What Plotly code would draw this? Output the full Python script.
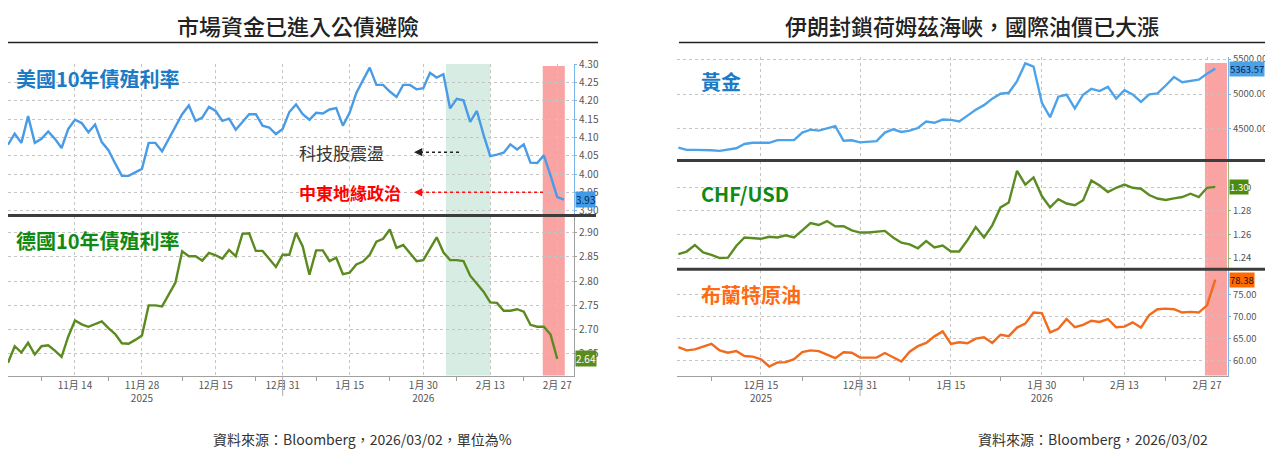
import pandas as pd
import plotly.graph_objects as go

# the page puts the figure 8px in from the top-left corner, so the figure is
# drawn 8px smaller and every layout position is given in page pixels
PAGE_OFF = 8
W, H = 1273 - PAGE_OFF, 453 - PAGE_OFF
FONT = "Noto Sans CJK TC, Noto Sans, sans-serif"
GRID = "#c4c4c4"

## data ----
# left chart: trading days (weekends and the Christmas / New Year holidays skipped)
left_holidays = ["2025-12-25", "2025-12-26", "2026-01-01"]
left_dates = [d for d in pd.bdate_range("2025-10-31", "2026-03-02")
              if d.strftime("%Y-%m-%d") not in left_holidays]
right_dates = list(pd.bdate_range("2025-12-01", "2026-03-02"))

us_10y = [
    4.080, 4.110, 4.085, 4.158, 4.085, 4.096, 4.116, 4.096, 4.071, 4.123,
    4.148, 4.139, 4.114, 4.135, 4.087, 4.065, 4.029, 3.995, 3.995, 4.004,
    4.014, 4.085, 4.085, 4.062, 4.096, 4.132, 4.163, 4.187, 4.145, 4.154,
    4.183, 4.172, 4.145, 4.151, 4.121, 4.142, 4.163, 4.163, 4.132, 4.127,
    4.109, 4.123, 4.169, 4.190, 4.163,
    4.148, 4.167, 4.165, 4.176, 4.180, 4.132, 4.167, 4.221, 4.256, 4.290,
    4.243, 4.243, 4.225, 4.210, 4.243, 4.243, 4.231, 4.234, 4.276, 4.263,
    4.272, 4.179, 4.205, 4.201, 4.142, 4.172, 4.107, 4.049, 4.053, 4.058,
    4.081, 4.067, 4.081, 4.031, 4.030, 4.051, 3.996, 3.937, 3.930,
]

de_10y = [
    2.632, 2.666, 2.653, 2.673, 2.649, 2.666, 2.668, 2.657, 2.644, 2.686,
    2.719, 2.711, 2.706, 2.711, 2.717, 2.703, 2.691, 2.672, 2.671, 2.679,
    2.688, 2.750, 2.750, 2.748, 2.774, 2.797, 2.861, 2.851, 2.851, 2.842,
    2.858, 2.853, 2.846, 2.864, 2.851, 2.897, 2.898, 2.862, 2.862, 2.846,
    2.829, 2.854, 2.854, 2.899, 2.871,
    2.813, 2.863, 2.863, 2.841, 2.848, 2.814, 2.817, 2.834, 2.840, 2.854,
    2.881, 2.887, 2.906, 2.868, 2.874, 2.858, 2.841, 2.843, 2.868, 2.890,
    2.859, 2.843, 2.843, 2.841, 2.811, 2.794, 2.778, 2.756, 2.755, 2.739,
    2.739, 2.742, 2.737, 2.710, 2.706, 2.706, 2.690, 2.640,
]

gold = [
    4232, 4200, 4200, 4200, 4195, 4186, 4205, 4224, 4284, 4302,
    4302, 4302, 4340, 4340, 4340, 4448, 4490, 4476, 4513, 4541,
    4330, 4337, 4308, 4315, 4326, 4448, 4494, 4457, 4476, 4513,
    4607, 4588, 4635, 4630, 4607, 4691, 4775, 4841,
    4934, 5004, 5018, 5183, 5440, 5393, 4878, 4667, 4962, 4990,
    4794, 4990, 5075, 5042, 5103, 4934, 5056, 4995, 4888, 4995,
    5009, 5122, 5243, 5168, 5183, 5206, 5290, 5363.57,
]

chf_usd = [
    1.2433, 1.2455, 1.2510, 1.2447, 1.2427, 1.2400, 1.2403, 1.2502, 1.2574, 1.2570,
    1.2563, 1.2580, 1.2574, 1.2593, 1.2574, 1.2635, 1.2696, 1.2680, 1.2713, 1.2668,
    1.2670, 1.2635, 1.2616, 1.2616, 1.2620, 1.2630, 1.2574, 1.2530, 1.2516, 1.2483,
    1.2544, 1.2489, 1.2505, 1.2455, 1.2455, 1.2552, 1.2663, 1.2574,
    1.2677, 1.2829, 1.2870, 1.3139, 1.3022, 1.3083, 1.2925, 1.2829, 1.2898, 1.2862,
    1.2848, 1.2890, 1.3056, 1.3014, 1.2959, 1.2995, 1.3022, 1.2995, 1.2987, 1.2934,
    1.2904, 1.2892, 1.2906, 1.2917, 1.2945, 1.2917, 1.2995, 1.3003,
]

brent = [
    63.10, 62.37, 62.59, 63.17, 63.83, 62.37, 61.84, 62.21, 61.10, 60.95,
    60.37, 58.73, 59.62, 59.70, 60.37, 61.99, 62.37, 62.21, 61.48, 60.60,
    61.93, 61.84, 60.73, 60.73, 60.73, 61.77, 60.73, 59.84, 62.06, 63.32,
    64.05, 65.54, 66.65, 63.83, 64.21, 63.99, 65.03, 65.32,
    64.05, 65.91, 65.60, 67.53, 68.42, 70.92, 70.79, 66.42, 67.24, 69.46,
    67.60, 68.13, 69.08, 68.79, 69.46, 67.60, 67.75, 68.71, 67.53, 70.35,
    71.68, 71.81, 71.68, 70.92, 71.08, 70.92, 72.56, 78.38,
]

left_tick_dates = ["2025-11-14", "2025-11-28", "2025-12-15", "2025-12-31",
                   "2026-01-15", "2026-01-30", "2026-02-13", "2026-02-27"]
left_tick_text = ["11月 14", "11月 28<br>2025", "12月 15", "12月 31",
                  "1月 15", "1月 30<br>2026", "2月 13", "2月 27"]
left_minor_dates = ["2025-11-07", "2025-11-21", "2025-12-08", "2025-12-23",
                    "2026-01-08", "2026-01-23", "2026-02-06", "2026-02-20"]

right_tick_dates = ["2025-12-15", "2025-12-31", "2026-01-15",
                    "2026-01-30", "2026-02-13", "2026-02-27"]
right_tick_text = ["12月 15<br>2025", "12月 31", "1月 15",
                   "1月 30<br>2026", "2月 13", "2月 27"]
right_minor_dates = ["2025-12-05", "2025-12-22", "2026-01-08",
                     "2026-01-23", "2026-02-06", "2026-02-20"]


### helpers ----
def fx(p):
    return (p - PAGE_OFF) / W


def fy(p):
    return 1 - (p - PAGE_OFF) / H


def x_axis(left, right, rng, breaks, anchor, labels=False, tickvals=None, ticktext=None, minor_vals=None):
    ax = dict(
        domain=[fx(left), fx(right)], range=rng, rangebreaks=breaks, anchor=anchor,
        tickmode="array", tickvals=tickvals, ticktext=ticktext,
        showgrid=True, gridcolor=GRID, griddash="dot", gridwidth=1,
        zeroline=False, showticklabels=labels, ticks="",
        tickfont=dict(family=FONT, size=10, color="#555"),
    )
    if labels:
        ax.update(
            showline=True, linecolor="#a0a0a0", linewidth=1,
            minor=dict(tickmode="array", tickvals=minor_vals, ticks="outside",
                       ticklen=4, tickcolor="#a0a0a0", showgrid=False),
        )
    return ax


def y_axis(top, bottom, rng, tickvals, anchor, linecolor, size=10):
    return dict(
        domain=[fy(bottom), fy(top)], range=rng, side="right", anchor=anchor,
        tickmode="array", tickvals=tickvals, tickformat=".2f",
        showline=True, linecolor=linecolor, linewidth=1,
        ticks="outside", ticklen=2, tickcolor=linecolor,
        showgrid=True, gridcolor=GRID, griddash="dot", gridwidth=1, zeroline=False,
        tickfont=dict(family=FONT, size=size, color="#555"),
    )


left_breaks = [dict(bounds=["sat", "mon"]), dict(values=left_holidays)]
right_breaks = [dict(bounds=["sat", "mon"])]
left_range = ["2025-10-31", "2026-03-03 12:00"]
right_range = ["2025-11-28 20:00", "2026-03-03 13:00"]

### generate chart ----
fig = go.Figure()

series = [
    (left_dates, us_10y, "x", "y", "#4a9be6"),
    (left_dates[:len(de_10y)], de_10y, "x2", "y2", "#5b8a1f"),
    (right_dates, gold, "x3", "y3", "#4da3ea"),
    (right_dates, chf_usd, "x4", "y4", "#5b8c22"),
    (right_dates, brent, "x5", "y5", "#f26a1b"),
]
for xs, ys, xa, ya, color in series:
    fig.add_trace(go.Scatter(x=xs, y=ys, xaxis=xa, yaxis=ya, mode="lines",
                             line=dict(color=color, width=2.4), hoverinfo="x+y"))

fig.update_layout(
    width=W, height=H, margin=dict(l=0, r=0, t=0, b=0),
    paper_bgcolor="white", plot_bgcolor="white", showlegend=False,
    font=dict(family=FONT),
    xaxis=x_axis(8, 574, left_range, left_breaks, "y", tickvals=left_tick_dates),
    xaxis2=x_axis(8, 574, left_range, left_breaks, "y2", True,
                  left_tick_dates, left_tick_text, left_minor_dates),
    xaxis3=x_axis(677, 1228, right_range, right_breaks, "y3", tickvals=right_tick_dates),
    xaxis4=x_axis(677, 1228, right_range, right_breaks, "y4", tickvals=right_tick_dates),
    xaxis5=x_axis(677, 1228, right_range, right_breaks, "y5", True,
                  right_tick_dates, right_tick_text, right_minor_dates),
    yaxis=y_axis(57, 212, [3.886, 4.30], [3.90, 3.95, 4.00, 4.05, 4.10, 4.15, 4.20, 4.25, 4.30], "x", "#7ab6ea"),
    yaxis2=y_axis(212, 375, [2.6056, 2.934], [2.65, 2.70, 2.75, 2.80, 2.85, 2.90], "x2", "#a0a0a0"),
    yaxis3=y_axis(50, 156, [4041, 5528], [4500, 5000, 5500], "x3", "#7ab6ea", 9.5),
    yaxis4=y_axis(156, 266, [1.2309, 1.3222], [1.24, 1.26, 1.28, 1.30], "x4", "#9bb87a", 9.5),
    yaxis5=y_axis(267, 375, [56.67, 80.6], [60, 65, 70, 75], "x5", "#7ab6ea", 9.5),
)

# highlighted periods
fig.add_shape(type="rect", xref="x2", yref="paper", x0="2026-02-04 09:00", x1="2026-02-13",
              y0=fy(375), y1=fy(57), fillcolor="#d7ece3", line_width=0, layer="below")
fig.add_shape(type="rect", xref="x2", yref="paper", x0="2026-02-24 20:00", x1="2026-03-02 03:00",
              y0=fy(375), y1=fy(59), fillcolor="#f9a3a3", line_width=0, layer="below")
fig.add_shape(type="rect", xref="x5", yref="paper", x0="2026-02-26 18:00", x1="2026-03-03 10:00",
              y0=fy(375), y1=fy(56), fillcolor="#f9a3a3", line_width=0, layer="below")

# title underlines and panel dividers
for x0, x1, y, w, c in [(8, 598, 35, 1.5, "#222"), (679, 1270, 35, 1.5, "#222"),
                        (8, 596, 211.5, 3, "#3c3c3c"),
                        (677, 1265, 155.5, 3, "#3c3c3c"), (677, 1265, 266.5, 3, "#3c3c3c")]:
    fig.add_shape(type="line", xref="paper", yref="paper", x0=fx(x0), x1=fx(x1),
                  y0=fy(y), y1=fy(y), line=dict(color=c, width=w))

# year separators under the axis
for xa, d in [("x2", "2025-12-31"), ("x5", "2025-12-31")]:
    fig.add_shape(type="line", xref=xa, yref="paper", x0=d, x1=d, y0=fy(375), y1=fy(396),
                  line=dict(color="#b0b0b0", width=1))

# dotted arrows
for x1, y, c in [(462, 147, "#222"), (543, 188, "#ff1010")]:
    fig.add_shape(type="line", xref="paper", yref="paper", x0=fx(420), x1=fx(x1),
                  y0=fy(y), y1=fy(y), line=dict(color=c, width=1.5, dash="dot"))
    fig.add_annotation(xref="paper", yref="paper", x=fx(414), y=fy(y), ax=10, ay=0,
                       text="", showarrow=True, arrowhead=2, arrowsize=1.1,
                       arrowwidth=1.5, arrowcolor=c)

texts = [
    ("市場資金已進入公債避險", 298, 17, "center", 22, "#222", 500),
    ("伊朗封鎖荷姆茲海峽，國際油價已大漲", 972, 17, "center", 22, "#222", 500),
    ("美國10年債殖利率", 14, 72, "left", 20, "#1b7bc6", 700),
    ("德國10年債殖利率", 14, 237, "left", 20, "#118a14", 700),
    ("黃金", 699, 75, "left", 20, "#1b7bc6", 700),
    ("CHF/USD", 699, 189, "left", 20, "#118a14", 700),
    ("布蘭特原油", 699, 292, "left", 20, "#ff6a13", 700),
    ("科技股震盪", 297, 147, "left", 17, "#333", 400),
    ("中東地緣政治", 297, 188, "left", 17, "#ff0000", 700),
    ("資料來源：Bloomberg，2026/03/02，單位為%", 362, 440, "center", 14, "#333", 400),
    ("資料來源：Bloomberg，2026/03/02", 1093, 440, "center", 14, "#333", 400),
]
for t, x, y, anchor, size, color, weight in texts:
    fig.add_annotation(xref="paper", yref="paper", x=fx(x), y=fy(y), text=t, showarrow=False,
                       xanchor=anchor, yanchor="middle",
                       font=dict(family=FONT, size=size, color=color, weight=weight))

# last value tags on the axes
tags = [
    ("y", us_10y[-1], 575, "#3f9be8", "#0a1f4d", 10),
    ("y2", de_10y[-1], 575, "#5b8a1f", "white", 10),
    ("y3", gold[-1], 1229, "#4aa3e8", "#0a1f4d", 9.5),
    ("y4", chf_usd[-1], 1229, "#4f8a10", "white", 9.5),
    ("y5", brent[-1], 1229, "#ff6a00", "#2a1000", 9.5),
]
for ya, v, x, bg, fg, size in tags:
    fig.add_annotation(xref="paper", yref=ya, x=fx(x), y=v, text=f"{v:.2f}", showarrow=False,
                       xanchor="left", yanchor="middle", bgcolor=bg, borderpad=0,
                       font=dict(family=FONT, size=size, color=fg))

fig.write_html("out.html")
